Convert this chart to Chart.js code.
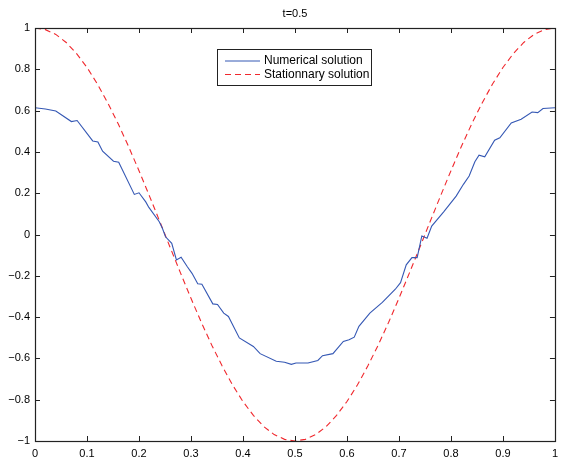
<!DOCTYPE html>
<html>
<head>
<meta charset="utf-8">
<script src="https://cdn.jsdelivr.net/npm/chart.js@4/dist/chart.umd.min.js"></script>
<style>
  html, body { margin: 0; padding: 0; background: #fff; }
  #wrap { width: 564px; height: 459px; }
</style>
</head>
<body>
<div id="wrap"><canvas id="c" width="564" height="459"></canvas></div>
<script>
// --------------------
// Data
// --------------------
const titleText = "t=0.5";
const numLabel = "Numerical solution";
const statLabel = "Stationnary solution";

const numX = [0, 0.02, 0.04, 0.07, 0.081, 0.111, 0.121, 0.130, 0.151, 0.161, 0.191, 0.200, 0.213, 0.219,
  0.239, 0.245, 0.251, 0.263, 0.272, 0.281, 0.293, 0.302, 0.313, 0.321, 0.342, 0.351, 0.363, 0.372,
  0.393, 0.420, 0.433, 0.464, 0.480, 0.493, 0.502, 0.525, 0.544, 0.553, 0.573, 0.593, 0.604, 0.614,
  0.623, 0.644, 0.668, 0.693, 0.703, 0.714, 0.725, 0.735, 0.744, 0.754, 0.763, 0.786, 0.810, 0.824,
  0.835, 0.846, 0.854, 0.865, 0.884, 0.894, 0.916, 0.935, 0.956, 0.967, 0.977, 1.0];
const numY = [0.614, 0.608, 0.598, 0.547, 0.552, 0.453, 0.448, 0.403, 0.355, 0.350, 0.194, 0.202, 0.158, 0.131,
  0.062, 0.030, -0.011, -0.043, -0.123, -0.110, -0.156, -0.188, -0.239, -0.241, -0.336, -0.339, -0.381, -0.397,
  -0.501, -0.542, -0.577, -0.614, -0.619, -0.629, -0.622, -0.622, -0.610, -0.587, -0.577, -0.518, -0.510, -0.497,
  -0.445, -0.381, -0.329, -0.265, -0.233, -0.147, -0.112, -0.112, -0.007, -0.018, 0.041, 0.110, 0.186, 0.243,
  0.283, 0.352, 0.384, 0.376, 0.457, 0.468, 0.540, 0.558, 0.593, 0.590, 0.610, 0.614];

const statX = [0, 0.02, 0.04, 0.06, 0.08, 0.10, 0.12, 0.14, 0.16, 0.18, 0.20, 0.22, 0.24, 0.26, 0.28, 0.30,
  0.32, 0.34, 0.36, 0.38, 0.40, 0.42, 0.44, 0.46, 0.48, 0.50, 0.52, 0.54, 0.56, 0.58, 0.60, 0.62, 0.64,
  0.66, 0.68, 0.70, 0.72, 0.74, 0.76, 0.78, 0.80, 0.82, 0.84, 0.86, 0.88, 0.90, 0.92, 0.94, 0.96, 0.98, 1.0];
const statY = [1, 0.992, 0.969, 0.930, 0.876, 0.809, 0.729, 0.637, 0.536, 0.426, 0.309, 0.187, 0.063, -0.063,
  -0.187, -0.309, -0.426, -0.536, -0.637, -0.729, -0.809, -0.876, -0.930, -0.969, -0.992, -1, -0.992, -0.969,
  -0.930, -0.876, -0.809, -0.729, -0.637, -0.536, -0.426, -0.309, -0.187, -0.063, 0.063, 0.187, 0.309, 0.426,
  0.536, 0.637, 0.729, 0.809, 0.876, 0.930, 0.969, 0.992, 1];

const xTicks = [0, 0.1, 0.2, 0.3, 0.4, 0.5, 0.6, 0.7, 0.8, 0.9, 1];
const yTicks = [-1, -0.8, -0.6, -0.4, -0.2, 0, 0.2, 0.4, 0.6, 0.8, 1];

const FONT = "'Liberation Sans', Arial, Helvetica, sans-serif";
const BLUE = "#3558b4";
const RED = "#f0282d";

const fmt = v => {
  const s = String(Math.round(v * 10) / 10);
  return s.startsWith("-") ? "\u2212" + s.slice(1) : s;
};

// --------------------
// Frame, inward ticks, title and legend (MATLAB look)
// --------------------
const matlabFrame = {
  id: "matlabFrame",
  afterDraw(chart) {
    const { ctx, chartArea: a, scales } = chart;
    const L = 5;
    ctx.save();
    ctx.strokeStyle = "#222";
    ctx.lineWidth = 1;
    ctx.beginPath();
    xTicks.forEach(v => {
      const px = Math.round(scales.x.getPixelForValue(v)) + 0.5;
      ctx.moveTo(px, a.bottom); ctx.lineTo(px, a.bottom - L);
      ctx.moveTo(px, a.top); ctx.lineTo(px, a.top + L);
    });
    yTicks.forEach(v => {
      const py = Math.round(scales.y.getPixelForValue(v)) + 0.5;
      ctx.moveTo(a.left, py); ctx.lineTo(a.left + L, py);
      ctx.moveTo(a.right, py); ctx.lineTo(a.right - L, py);
    });
    ctx.stroke();
    ctx.lineWidth = 1.2;
    ctx.strokeRect(Math.round(a.left) + 0.5, Math.round(a.top) + 0.5,
      Math.round(a.right - a.left), Math.round(a.bottom - a.top));

    // title
    ctx.fillStyle = "#000";
    ctx.font = "11px " + FONT;
    ctx.textAlign = "center";
    ctx.textBaseline = "middle";
    ctx.fillText(titleText, (a.left + a.right) / 2, 14);

    // legend box
    const bx = 217.5, by = 49.5, bw = 154, bh = 36;
    ctx.lineWidth = 1;
    ctx.fillStyle = "#fff";
    ctx.fillRect(bx, by, bw, bh);
    ctx.strokeRect(bx, by, bw, bh);
    ctx.textAlign = "left";
    ctx.font = "12px " + FONT;
    chart.data.datasets.forEach((ds, i) => {
      const y = 61 + i * 13.5;
      ctx.beginPath();
      ctx.strokeStyle = ds.borderColor;
      ctx.setLineDash(ds.borderDash || []);
      ctx.moveTo(225, y); ctx.lineTo(260, y);
      ctx.stroke();
      ctx.setLineDash([]);
      ctx.fillStyle = "#000";
      ctx.fillText(ds.label, 264, y);
    });
    ctx.restore();
  }
};

const ctx1 = document.getElementById("c").getContext("2d");
new Chart(ctx1, {
  type: "line",
  data: {
    datasets: [
      { label: numLabel, data: numX.map((x, i) => ({ x, y: numY[i] })), borderColor: BLUE,
        borderWidth: 1.1, pointRadius: 0, fill: false, tension: 0 },
      { label: statLabel, data: statX.map((x, i) => ({ x, y: statY[i] })), borderColor: RED,
        borderWidth: 1.1, borderDash: [6, 4], pointRadius: 0, fill: false, tension: 0 }
    ]
  },
  options: {
    responsive: false,
    animation: false,
    layout: { padding: { top: 28, right: 5, left: 0, bottom: 0 } },
    plugins: { legend: { display: false }, tooltip: { enabled: false }, title: { display: false } },
    scales: {
      x: {
        type: "linear", min: 0, max: 1,
        afterFit: s => { s.height = 18; },
        afterBuildTicks: s => { s.ticks = xTicks.map(v => ({ value: v })); },
        grid: { display: false, drawTicks: false },
        border: { display: false },
        ticks: { color: "#000", font: { family: FONT, size: 11 }, padding: 6, maxRotation: 0, callback: fmt }
      },
      y: {
        type: "linear", min: -1, max: 1,
        afterFit: s => { s.width = 35; },
        afterBuildTicks: s => { s.ticks = yTicks.map(v => ({ value: v })); },
        grid: { display: false, drawTicks: false },
        border: { display: false },
        ticks: { color: "#000", font: { family: FONT, size: 11 }, padding: 5, callback: fmt }
      }
    }
  },
  plugins: [matlabFrame]
});
</script>
</body>
</html>
